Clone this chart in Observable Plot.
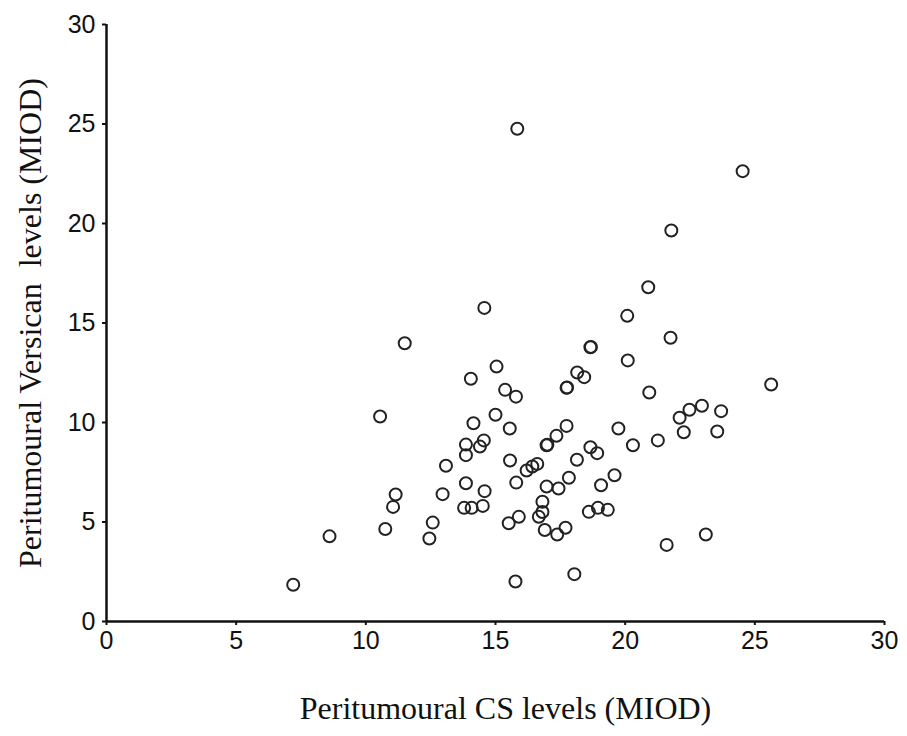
<!DOCTYPE html>
<html>
<head>
<meta charset="utf-8">
<script src="https://cdn.jsdelivr.net/npm/d3@7"></script>
<script src="https://cdn.jsdelivr.net/npm/@observablehq/plot@0.6"></script>
<style>
  html, body { margin: 0; padding: 0; background: #fff; }
  #chart { width: 907px; height: 736px; }
</style>
</head>
<body>
<div id="chart"></div>
<script>
// Peritumoural CS levels (MIOD)
const csLevels = [
  7.2, 8.6, 10.75, 11.05, 11.15, 10.55, 11.5, 12.45, 12.58, 12.96,
  13.09, 14.57, 15.04, 14.05, 15.37, 15.79, 15.0, 14.15, 15.55, 13.86,
  14.55, 14.4, 13.86, 16.97, 17.0, 15.56, 16.2, 16.42, 16.61, 13.86,
  15.8, 16.97, 14.58, 13.79, 14.08, 14.51, 16.81, 16.81, 16.67, 15.51,
  15.9, 16.9, 17.38, 17.7, 15.77, 18.04, 20.89, 20.08, 21.75, 18.66,
  18.68, 20.1, 18.15, 18.42, 17.74, 17.76, 20.93, 25.63, 22.96, 22.48,
  22.1, 23.7, 22.26, 23.55, 21.26, 17.74, 17.35, 19.74, 20.3, 18.66,
  18.92, 18.14, 17.43, 17.83, 19.07, 19.59, 18.6, 18.95, 19.33, 21.6,
  23.11, 15.84, 24.53, 21.78
];
// Peritumoural Versican levels (MIOD)
const versicanLevels = [
  1.85, 4.28, 4.65, 5.76, 6.38, 10.3, 13.98, 4.17, 4.97, 6.4,
  7.83, 15.76, 12.81, 12.2, 11.64, 11.3, 10.39, 9.96, 9.7, 8.89,
  9.1, 8.79, 8.36, 8.86, 8.88, 8.09, 7.59, 7.79, 7.92, 6.95,
  6.98, 6.78, 6.55, 5.71, 5.71, 5.81, 6.02, 5.5, 5.26, 4.94,
  5.26, 4.6, 4.37, 4.71, 2.01, 2.38, 16.8, 15.36, 14.26, 13.78,
  13.8, 13.12, 12.51, 12.28, 11.74, 11.76, 11.51, 11.91, 10.84, 10.64,
  10.24, 10.57, 9.51, 9.55, 9.1, 9.83, 9.33, 9.7, 8.86, 8.76,
  8.46, 8.13, 6.68, 7.22, 6.85, 7.35, 5.51, 5.71, 5.61, 3.85,
  4.37, 24.76, 22.63, 19.65
];
const tickValues = [0, 5, 10, 15, 20, 25, 30];
const xTitle = "Peritumoural CS levels (MIOD)";
const yTitle = "Peritumoural Versican\u00a0 levels (MIOD)";

const data = csLevels.map((x, i) => ({x, y: versicanLevels[i]}));

const sans = "Arial, 'Liberation Sans', sans-serif";
const serif = "'Times New Roman', 'Liberation Serif', serif";

const chart = Plot.plot({
  width: 907,
  height: 736,
  marginLeft: 106,
  marginRight: 23,
  marginTop: 24,
  marginBottom: 115,
  style: {background: "#fff", color: "#111"},
  x: {domain: [0, 30]},
  y: {domain: [0, 30]},
  marks: [
    Plot.axisX({ticks: tickValues, tickSize: 4, tickPadding: 6, fontSize: 25, fontFamily: sans, label: null, stroke: "#111", strokeWidth: 2}),
    Plot.axisY({ticks: tickValues, tickSize: 4, tickPadding: 7, fontSize: 25, fontFamily: sans, label: null, stroke: "#111", strokeWidth: 2}),
    Plot.ruleY([0], {stroke: "#111", strokeWidth: 2.5}),
    Plot.ruleX([0], {stroke: "#111", strokeWidth: 2.5}),
    Plot.dot(data, {x: "x", y: "y", r: 6, stroke: "#222", strokeWidth: 2, fill: "none"}),
    Plot.text([xTitle], {frameAnchor: "bottom", dy: 97, dx: 10, textAnchor: "middle", fontSize: 32, fontFamily: serif, fill: "#111"}),
    Plot.text([yTitle], {frameAnchor: "left", dx: -76, textAnchor: "middle", rotate: -90, fontSize: 32, fontFamily: serif, fill: "#111"})
  ]
});
document.getElementById("chart").appendChild(chart);
</script>
</body>
</html>
